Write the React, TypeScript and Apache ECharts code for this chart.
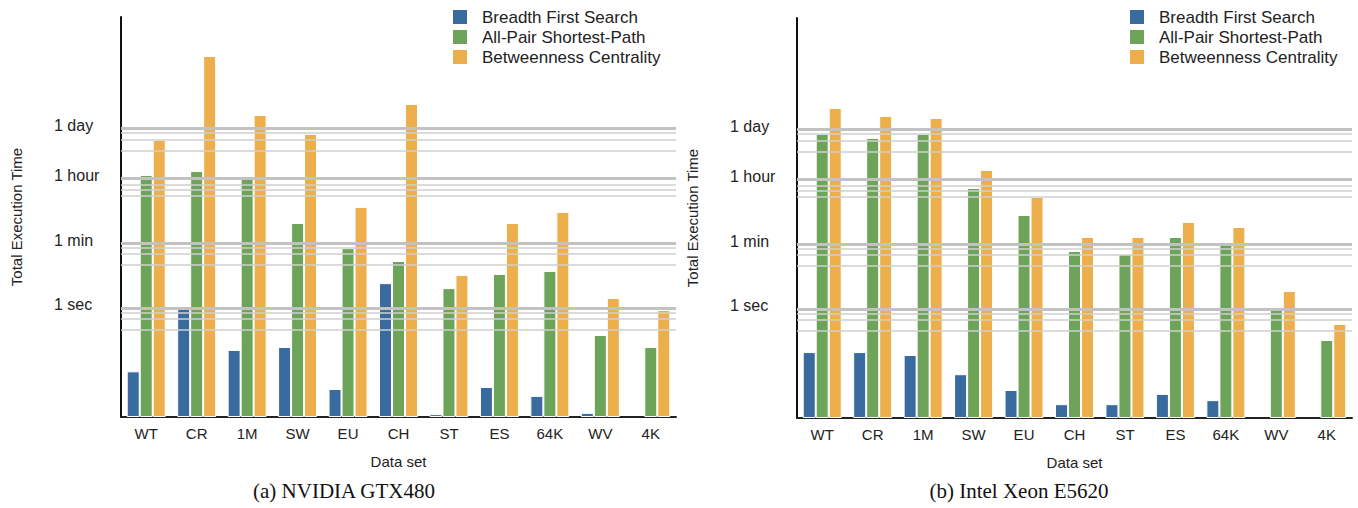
import React, { useEffect, useRef } from "react";
import * as echarts from "echarts";

// Data sets on the x axis
const categories = ["WT", "CR", "1M", "SW", "EU", "CH", "ST", "ES", "64K", "WV", "4K"];

// Total execution time in seconds — NVIDIA GTX480
const gtxBfs = [0.018, 1.1, 0.07, 0.084, 0.0059, 4.8, 0.0012, 0.0067, 0.0038, 0.0013, null];
const gtxApsp = [4500, 5800, 4250, 216, 44, 19.5, 3.5, 8.6, 10.4, 0.18, 0.084];
const gtxBc = [41500, 8.5e6, 202000, 60700, 600, 406000, 8, 216, 435, 1.87, 0.88];

// Total execution time in seconds — Intel Xeon E5620
const xeonBfs = [0.065, 0.065, 0.054, 0.016, 0.0059, 0.0024, 0.0024, 0.0046, 0.0031, null, null];
const xeonApsp = [64700, 50200, 64700, 2120, 383, 39, 32, 95, 61, 1.13, 0.14];
const xeonBc = [336000, 202000, 178000, 6620, 1200, 95, 95, 246, 179, 3.1, 0.385];

const seriesNames = ["Breadth First Search", "All-Pair Shortest-Path", "Betweenness Centrality"];
const seriesColors = ["#3a6b9f", "#6da45a", "#edaf4c"];

// Time units shown as tick labels (seconds)
const unitValues = [1, 60, 3600, 86400];
const unitNames = ["1 sec", "1 min", "1 hour", "1 day"];

// Reference lines: the unit itself plus fractions below it (seconds)
const majorLines = [1, 60, 3600, 86400];
const minorLines = [0.75, 0.5, 0.25, 45, 30, 15, 2400, 1800, 1200, 64800, 43200, 21600];

const captions = ["(a) NVIDIA GTX480", "(b) Intel Xeon E5620"];

const FONT = "Liberation Sans";

function unitLabel(v: number): string {
  for (let i = 0; i < unitValues.length; i++) {
    if (Math.abs(Math.log10(v) - Math.log10(unitValues[i])) < 0.01) return unitNames[i];
  }
  return "";
}

function buildOption() {
  const panels = [
    { data: [gtxBfs, gtxApsp, gtxBc], left: 121, top: 17, legendLeft: 451, captionX: 344 },
    { data: [xeonBfs, xeonApsp, xeonBc], left: 797, top: 18, legendLeft: 1128, captionX: 1019 },
  ];

  const grid: any[] = [];
  const xAxis: any[] = [];
  const yAxis: any[] = [];
  const series: any[] = [];
  const legend: any[] = [];
  const title: any[] = [];

  panels.forEach((p, idx) => {
    grid.push({ left: p.left, top: p.top, width: 555, height: 400, containLabel: false });

    xAxis.push({
      type: "category",
      gridIndex: idx,
      data: categories,
      axisLine: { show: true, lineStyle: { color: "#222", width: 2 } },
      axisTick: { show: false },
      axisLabel: { fontSize: 15, color: "#222", margin: 9, fontFamily: FONT },
      splitLine: { show: false },
      name: "Data set",
      nameLocation: "middle",
      nameGap: 37,
      nameTextStyle: { fontSize: 15, color: "#222", fontFamily: FONT },
    });

    yAxis.push({
      type: "log",
      logBase: 10,
      gridIndex: idx,
      min: 0.001,
      max: 1e8,
      startValue: 0.001,
      name: "Total Execution Time",
      nameLocation: "middle",
      nameRotate: 90,
      nameGap: 97,
      nameTextStyle: { fontSize: 15, color: "#222", fontFamily: FONT },
      axisLine: { show: true, onZero: false, lineStyle: { color: "#111", width: 2 } },
      axisTick: { show: false },
      splitLine: { show: false },
      minorTick: { show: false },
      minorSplitLine: { show: false },
      axisLabel: {
        customValues: unitValues,
        formatter: (v: number) => unitLabel(v),
        align: "left",
        verticalAlign: "bottom",
        lineHeight: 6,
        margin: 67,
        fontSize: 16,
        color: "#222",
        fontFamily: FONT,
      },
    });

    // Horizontal reference lines, drawn underneath the bars
    series.push({
      type: "line",
      name: "grid-lines-" + idx,
      xAxisIndex: idx,
      yAxisIndex: idx,
      data: categories.map(() => null),
      showSymbol: false,
      silent: true,
      z: 1,
      markLine: {
        silent: true,
        symbol: ["none", "none"],
        label: { show: false },
        emphasis: { disabled: true },
        data: [
          ...minorLines.map((v) => ({ yAxis: v, lineStyle: { color: "#cfcfcf", width: 1.5, type: "solid" } })),
          ...majorLines.map((v) => ({ yAxis: v, lineStyle: { color: "#c2c2c2", width: 3, type: "solid" } })),
        ],
      },
    });

    p.data.forEach((values, s) => {
      series.push({
        type: "bar",
        name: seriesNames[s],
        xAxisIndex: idx,
        yAxisIndex: idx,
        data: values,
        barWidth: 13,
        barGap: "0%",
        z: 3,
        itemStyle: { color: seriesColors[s], borderColor: "#ffffff", borderWidth: 1 },
      });
    });

    legend.push({
      orient: "vertical",
      left: p.legendLeft,
      top: 8,
      padding: 0,
      itemWidth: 16,
      itemHeight: 16,
      itemGap: 2,
      icon: "rect",
      selectedMode: false,
      data: seriesNames,
      textStyle: { fontSize: 17, color: "#222", fontFamily: FONT, padding: [0, 0, 0, 9] },
    });

    title.push({
      text: captions[idx],
      left: p.captionX,
      top: 480,
      padding: 0,
      textAlign: "center",
      textStyle: { fontFamily: "Liberation Serif", fontSize: 21, fontWeight: "normal", color: "#111" },
    });
  });

  return {
    animation: false,
    backgroundColor: "#ffffff",
    textStyle: { fontFamily: FONT },
    title,
    legend,
    grid,
    xAxis,
    yAxis,
    series,
  };
}

export default function App() {
  const ref = useRef<HTMLDivElement>(null);

  useEffect(() => {
    if (!ref.current) return;
    const chart = echarts.init(ref.current, undefined, { renderer: "svg" });
    chart.setOption(buildOption() as any);
    return () => {
      chart.dispose();
    };
  }, []);

  return (
    <div
      ref={ref}
      style={{ position: "fixed", left: 0, top: 0, width: 1358, height: 508, background: "#fff" }}
    />
  );
}
